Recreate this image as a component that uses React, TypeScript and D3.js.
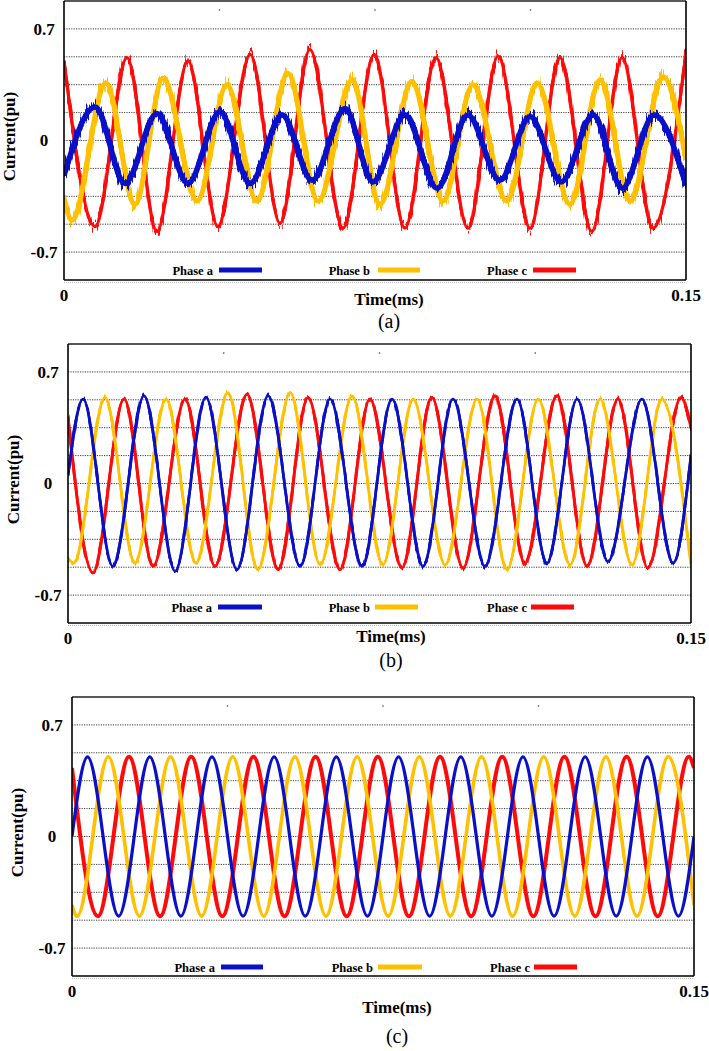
import React from "react";
import * as d3 from "d3";

// ---------- data (time in ms, current in pu) ----------
const X_DOMAIN = [0, 0.15];
const Y_DOMAIN = [-0.875, 0.875];
const GRID_VALUES = [-0.7, -0.525, -0.35, -0.175, 0, 0.175, 0.35, 0.525, 0.7];
const Y_TICKS = [-0.7, 0, 0.7];
const Y_TICK_LABELS = ["-0.7", "0", "0.7"];
const X_TICKS = [0, 0.15];
const X_TICK_LABELS = ["0", "0.15"];
const TOP_MARKS = [0.0375, 0.075, 0.1125];
const PHASE_NAMES = ["Phase a", "Phase b", "Phase c"];
const PANEL_LABELS = ["(a)", "(b)", "(c)"];

// Panel (a): extrema of each phase
const A_PHASE_A_T = [0, 0.0075, 0.0147, 0.0224, 0.0299, 0.0376, 0.0449, 0.0526, 0.0598, 0.0678, 0.0745, 0.0822, 0.09, 0.0974, 0.1051, 0.1124, 0.1199, 0.1276, 0.1346, 0.1423, 0.15];
const A_PHASE_A_V = [-0.22, 0.21, -0.27, 0.17, -0.27, 0.18, -0.27, 0.16, -0.25, 0.2, -0.26, 0.16, -0.3, 0.16, -0.25, 0.15, -0.26, 0.16, -0.3, 0.16, -0.28];
const A_PHASE_B_T = [0, 0.0019, 0.0101, 0.0171, 0.0239, 0.0321, 0.0393, 0.0465, 0.054, 0.0613, 0.0695, 0.0762, 0.0839, 0.0914, 0.0986, 0.1068, 0.1141, 0.122, 0.1293, 0.1365, 0.1445, 0.15];
const A_PHASE_B_V = [-0.36, -0.5, 0.36, -0.4, 0.39, -0.38, 0.35, -0.38, 0.42, -0.38, 0.38, -0.4, 0.37, -0.38, 0.35, -0.38, 0.36, -0.4, 0.38, -0.38, 0.4, -0.12];
const A_PHASE_C_T = [0, 0.0075, 0.0152, 0.0224, 0.0299, 0.0371, 0.0449, 0.0521, 0.0593, 0.0673, 0.0748, 0.0822, 0.0897, 0.0974, 0.1047, 0.1124, 0.1196, 0.1273, 0.1346, 0.142, 0.15];
const A_PHASE_C_V = [0.5, -0.54, 0.52, -0.57, 0.5, -0.54, 0.54, -0.52, 0.57, -0.55, 0.54, -0.55, 0.52, -0.55, 0.53, -0.55, 0.52, -0.57, 0.52, -0.55, 0.55];

// Panel (b)
const B_PHASE_A_T = [0, 0.0036, 0.0108, 0.0183, 0.0258, 0.0332, 0.0407, 0.0482, 0.0559, 0.0631, 0.0708, 0.078, 0.0855, 0.0927, 0.1004, 0.1081, 0.1153, 0.1226, 0.13, 0.1382, 0.1457, 0.15];
const B_PHASE_A_V = [0.05, 0.53, -0.52, 0.55, -0.55, 0.54, -0.54, 0.55, -0.52, 0.53, -0.52, 0.53, -0.52, 0.53, -0.52, 0.53, -0.5, 0.53, -0.49, 0.53, -0.5, 0.18];
const B_PHASE_B_T = [0, 0.0014, 0.0089, 0.0161, 0.0236, 0.0308, 0.0385, 0.0457, 0.0535, 0.0607, 0.0684, 0.0758, 0.0831, 0.0908, 0.0985, 0.1057, 0.1132, 0.1209, 0.1281, 0.1358, 0.143, 0.15];
const B_PHASE_B_V = [-0.47, -0.5, 0.54, -0.5, 0.53, -0.5, 0.57, -0.54, 0.57, -0.51, 0.55, -0.51, 0.53, -0.51, 0.53, -0.54, 0.53, -0.51, 0.53, -0.51, 0.53, -0.51];
const B_PHASE_C_T = [0, 0.006, 0.0135, 0.0205, 0.0282, 0.0354, 0.0431, 0.0506, 0.0578, 0.0655, 0.0727, 0.0804, 0.0876, 0.0951, 0.1028, 0.11, 0.1177, 0.125, 0.1324, 0.1396, 0.1476, 0.15];
const B_PHASE_C_V = [0.42, -0.56, 0.53, -0.52, 0.53, -0.52, 0.56, -0.54, 0.54, -0.54, 0.53, -0.53, 0.54, -0.53, 0.55, -0.5, 0.55, -0.52, 0.53, -0.53, 0.54, 0.35];

// Panel (c)
const C_PHASE_A_T = [0, 0.00375, 0.01125, 0.01875, 0.02625, 0.03375, 0.04125, 0.04875, 0.05625, 0.06375, 0.07125, 0.07875, 0.08625, 0.09375, 0.10125, 0.10875, 0.11625, 0.12375, 0.13125, 0.13875, 0.14625, 0.15];
const C_PHASE_A_V = [0, 0.5, -0.5, 0.5, -0.5, 0.5, -0.5, 0.5, -0.5, 0.5, -0.5, 0.5, -0.5, 0.5, -0.5, 0.5, -0.5, 0.5, -0.5, 0.5, -0.5, 0];
const C_PHASE_B_T = [0, 0.00125, 0.00875, 0.01625, 0.02375, 0.03125, 0.03875, 0.04625, 0.05375, 0.06125, 0.06875, 0.07625, 0.08375, 0.09125, 0.09875, 0.10625, 0.11375, 0.12125, 0.12875, 0.13625, 0.14375, 0.15];
const C_PHASE_B_V = [-0.43, -0.5, 0.5, -0.5, 0.5, -0.5, 0.5, -0.5, 0.5, -0.5, 0.5, -0.5, 0.5, -0.5, 0.5, -0.5, 0.5, -0.5, 0.5, -0.5, 0.5, -0.43];
const C_PHASE_C_T = [0, 0.00625, 0.01375, 0.02125, 0.02875, 0.03625, 0.04375, 0.05125, 0.05875, 0.06625, 0.07375, 0.08125, 0.08875, 0.09625, 0.10375, 0.11125, 0.11875, 0.12625, 0.13375, 0.14125, 0.14875, 0.15];
const C_PHASE_C_V = [0.43, -0.5, 0.5, -0.5, 0.5, -0.5, 0.5, -0.5, 0.5, -0.5, 0.5, -0.5, 0.5, -0.5, 0.5, -0.5, 0.5, -0.5, 0.5, -0.5, 0.5, 0.43];

// ---------- styling / layout ----------
const COLORS = ["#0a10c8", "#ffc000", "#ff0a0a"];
const FONT = "'Liberation Serif', 'Times New Roman', Times, serif";
const DRAW_ORDER = [2, 1, 0];

const PANELS = [
  {
    left: 64, right: 686, top: 1, bottom: 280, timeX: 389, timeY: 305, capY: 328, legY: 270,
    legend: [{ te: 213, x1: 219, x2: 262 }, { te: 370, x1: 378, x2: 420 }, { te: 527, x1: 533, x2: 576 }],
    series: [[A_PHASE_A_T, A_PHASE_A_V], [A_PHASE_B_T, A_PHASE_B_V], [A_PHASE_C_T, A_PHASE_C_V]],
    widths: [5.5, 5, 3.2], noise: "url(#noiseA)",
  },
  {
    left: 68, right: 691, top: 344, bottom: 623, timeX: 391, timeY: 642, capY: 667, legY: 607,
    legend: [{ te: 212, x1: 218, x2: 262 }, { te: 370, x1: 375, x2: 418 }, { te: 527, x1: 531, x2: 574 }],
    series: [[B_PHASE_A_T, B_PHASE_A_V], [B_PHASE_B_T, B_PHASE_B_V], [B_PHASE_C_T, B_PHASE_C_V]],
    widths: [2.7, 2.7, 2.9], noise: "url(#noiseB)",
  },
  {
    left: 72, right: 694, top: 697, bottom: 976, timeX: 397, timeY: 1013, capY: 1043, legY: 967,
    legend: [{ te: 215, x1: 221, x2: 263 }, { te: 373, x1: 378, x2: 422 }, { te: 530, x1: 534, x2: 577 }],
    series: [[C_PHASE_A_T, C_PHASE_A_V], [C_PHASE_B_T, C_PHASE_B_V], [C_PHASE_C_T, C_PHASE_C_V]],
    widths: [3.2, 3.6, 4], noise: null,
  },
];

function Panel({ p, idx }: { p: any; idx: number }) {
  const x = d3.scaleLinear().domain(X_DOMAIN).range([p.left, p.right]);
  const y = d3.scaleLinear().domain(Y_DOMAIN).range([p.bottom, p.top]);
  const line = d3
    .line<[number, number]>()
    .x((d) => x(d[0]))
    .y((d) => y(d[1]))
    .curve(d3.curveMonotoneX);
  const clipId = `clip${idx}`;
  return (
    <g>
      <defs>
        <clipPath id={clipId}>
          <rect x={p.left} y={p.top} width={p.right - p.left} height={p.bottom - p.top} />
        </clipPath>
      </defs>
      {GRID_VALUES.map((v) => (
        <line key={v} x1={p.left} x2={p.right} y1={y(v)} y2={y(v)} stroke="#3a3a3a" strokeWidth={1} strokeDasharray="1.2 1.2" />
      ))}
      {TOP_MARKS.map((t) => (
        <circle key={t} cx={x(t)} cy={p.top + 9} r={0.8} fill="#444" />
      ))}
      <g clipPath={`url(#${clipId})`}>
        {DRAW_ORDER.map((k) => {
          const [T, V] = p.series[k];
          const pts = d3.zip(T, V) as [number, number][];
          return (
            <path key={k} d={line(pts) || ""} fill="none" stroke={COLORS[k]} strokeWidth={p.widths[k]}
              strokeLinejoin="round" filter={p.noise || undefined} />
          );
        })}
      </g>
      <line x1={p.left} x2={p.right} y1={p.top} y2={p.top} stroke="#222" strokeWidth={1.5} />
      <line x1={p.left} x2={p.right} y1={p.bottom + 2.5} y2={p.bottom + 2.5} stroke="#bbb" strokeWidth={1} strokeDasharray="1 1" />
      <line x1={p.left} x2={p.right} y1={p.bottom} y2={p.bottom} stroke="#000" strokeWidth={1.6} />
      <line x1={p.left} x2={p.left} y1={p.top} y2={p.bottom} stroke="#000" strokeWidth={1.6} />
      <line x1={p.right} x2={p.right} y1={p.top} y2={p.bottom} stroke="#000" strokeWidth={1.6} />
      {Y_TICKS.map((v, i) => (
        <text key={v} x={p.left - 20} y={y(v)} dy="0.35em" textAnchor="middle" fontSize={17} fontWeight="bold" fontFamily={FONT}>
          {Y_TICK_LABELS[i]}
        </text>
      ))}
      <text transform={`translate(${p.left - 49},${(p.top + p.bottom) / 2 - 4}) rotate(-90)`} textAnchor="middle"
        fontSize={17} fontWeight="bold" fontFamily={FONT}>
        Current(pu)
      </text>
      {X_TICKS.map((t, i) => (
        <text key={t} x={x(t)} y={p.bottom + 21} textAnchor="middle" fontSize={17} fontWeight="bold" fontFamily={FONT}>
          {X_TICK_LABELS[i]}
        </text>
      ))}
      <text x={p.timeX} y={p.timeY} textAnchor="middle" fontSize={17} fontWeight="bold" fontFamily={FONT}>
        Time(ms)
      </text>
      <text x={p.timeX} y={p.capY} textAnchor="middle" fontSize={20} fontFamily={FONT}>
        {PANEL_LABELS[idx]}
      </text>
      {p.legend.map((l: any, k: number) => (
        <g key={k}>
          <text x={l.te} y={p.legY + 4.5} textAnchor="end" fontSize={12.5} fontWeight="bold" fontFamily={FONT}>
            {PHASE_NAMES[k]}
          </text>
          <line x1={l.x1 + 2} x2={l.x2} y1={p.legY + 3.5} y2={p.legY + 3.5} stroke="#9a9a9a" strokeWidth={3} filter="url(#blur)" />
          <line x1={l.x1} x2={l.x2} y1={p.legY} y2={p.legY} stroke={COLORS[k]} strokeWidth={5} />
        </g>
      ))}
    </g>
  );
}

export default function App() {
  return (
    <svg width={709} height={1051} style={{ position: "absolute", left: 0, top: 0, background: "#fff", display: "block" }}>
      <defs>
        <filter id="blur" x="-20%" y="-200%" width="140%" height="500%">
          <feGaussianBlur stdDeviation={1} />
        </filter>
        <filter id="noiseA" filterUnits="userSpaceOnUse" x={0} y={0} width={709} height={1051} colorInterpolationFilters="sRGB">
          <feTurbulence type="fractalNoise" baseFrequency="0.6 0.05" numOctaves={2} seed={4} result="turb" />
          <feColorMatrix in="turb" type="matrix" values="0 0 0 0 0.5  0 2 0 0 -0.5  0 0 0 0 0  0 0 0 0 1" result="map" />
          <feDisplacementMap in="SourceGraphic" in2="map" scale={12} xChannelSelector="R" yChannelSelector="G" result="disp" />
          <feMerge>
            <feMergeNode in="disp" />
            <feMergeNode in="SourceGraphic" />
          </feMerge>
        </filter>
        <filter id="noiseB" filterUnits="userSpaceOnUse" x={0} y={0} width={709} height={1051} colorInterpolationFilters="sRGB">
          <feTurbulence type="fractalNoise" baseFrequency="0.45 0.05" numOctaves={2} seed={9} result="turb" />
          <feColorMatrix in="turb" type="matrix" values="0 0 0 0 0.5  0 2 0 0 -0.5  0 0 0 0 0  0 0 0 0 1" result="map" />
          <feDisplacementMap in="SourceGraphic" in2="map" scale={5} xChannelSelector="R" yChannelSelector="G" result="disp" />
          <feMerge>
            <feMergeNode in="disp" />
            <feMergeNode in="SourceGraphic" />
          </feMerge>
        </filter>
      </defs>
      {PANELS.map((p, i) => (
        <Panel key={i} p={p} idx={i} />
      ))}
    </svg>
  );
}
